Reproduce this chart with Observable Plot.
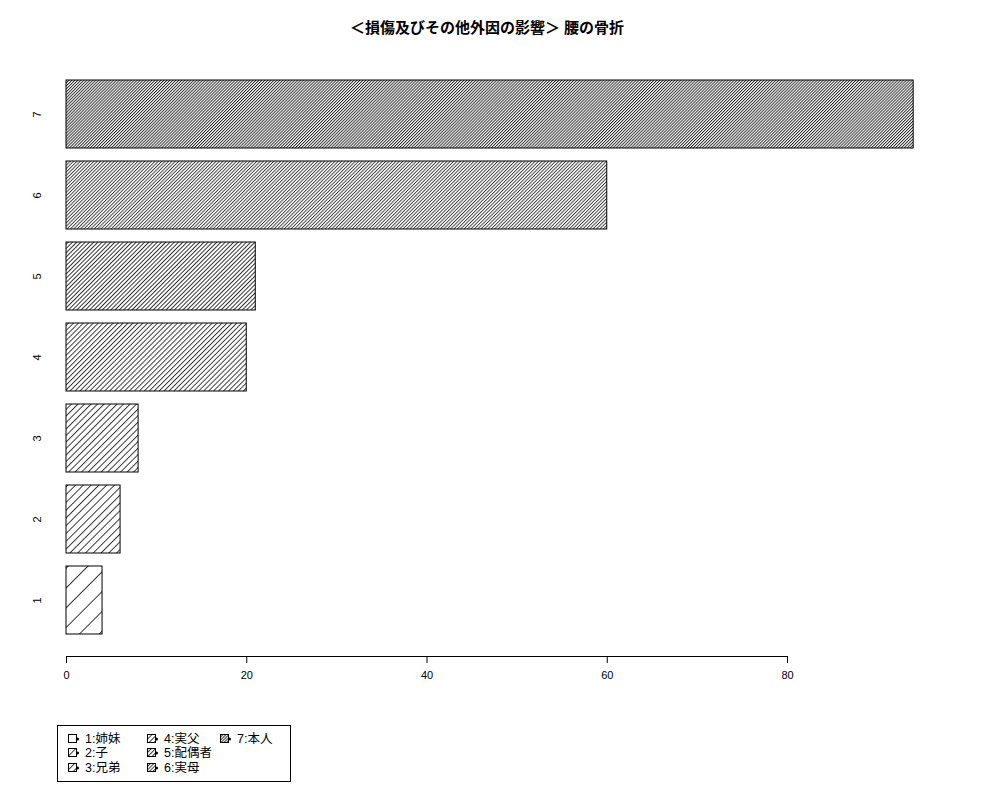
<!DOCTYPE html>
<html>
<head>
<meta charset="utf-8">
<script src="https://cdn.jsdelivr.net/npm/d3@7"></script>
<script src="https://cdn.jsdelivr.net/npm/@observablehq/plot@0.6"></script>
<style>
  body { margin: 0; background: #fff; font-family: "Liberation Sans", "Noto Sans CJK JP", sans-serif; }
  #wrap { position: relative; width: 1000px; height: 800px; }
  #title { position: absolute; left: 0; top: 19px; width: 974px; text-align: center; font-weight: bold; font-size: 15px; line-height: 18px; color: #000; }
  #chart { position: absolute; left: 0; top: 0; }
  #legend { position: absolute; left: 57px; top: 725px; width: 234px; height: 57px; border: 1px solid #000; box-sizing: border-box; }
  .item { position: absolute; font-size: 12.5px; line-height: 14px; color: #000; white-space: nowrap; }
  .item svg { position: absolute; left: -17px; top: 2px; }
</style>
</head>
<body>
<div id="wrap">
  <div id="chart"></div>
  <div id="title"></div>
  <div id="legend"></div>
</div>
<script>
const title = "＜損傷及びその他外因の影響＞ 腰の骨折";
const categories = ["1", "2", "3", "4", "5", "6", "7"];
const values = [4, 6, 8, 20, 21, 60, 94];
const legendLabels = ["1:姉妹", "2:子", "3:兄弟", "4:実父", "5:配偶者", "6:実母", "7:本人"];
const xTicks = [0, 20, 40, 60, 80];

// style: perpendicular gap between hatch lines per category (px)
const hatchGap = [14, 5.5, 4.6, 3.5, 3.0, 2.4, 2.1];

const data = categories.map((c, i) => ({cat: c, value: values[i], pat: `url(#hatch${i})`}));

document.getElementById("title").textContent = title;

const svg = Plot.plot({
  width: 1000,
  height: 700,
  marginTop: 72,
  marginBottom: 44,
  marginLeft: 66,
  marginRight: 213,
  style: {fontFamily: "'Liberation Sans', 'Noto Sans CJK JP', sans-serif", fontSize: "11px", color: "#000", background: "#fff"},
  x: {domain: [0, 80], ticks: xTicks},
  y: {domain: categories.slice().reverse(), paddingInner: 0.2 / 1.2, paddingOuter: 0.1 / 1.2, insetBottom: 15},
  color: {type: "identity"},
  marks: [
    Plot.barX(data, {x: "value", y: "cat", fill: "pat", stroke: "black", strokeWidth: 1}),
    Plot.frame({anchor: "bottom", stroke: "black"}),
    Plot.axisX({ticks: xTicks, tickSize: 7, tickPadding: 8, label: null, fontSize: 11}),
    Plot.axisY({tickSize: 0, tickRotate: -90, tickPadding: 26, label: null, fontSize: 11})
  ]
});

const defs = d3.select(svg).insert("defs", ":first-child");
hatchGap.forEach((g, i) => {
  const p = defs.append("pattern")
    .attr("id", `hatch${i}`)
    .attr("patternUnits", "userSpaceOnUse")
    .attr("width", g)
    .attr("height", 10)
    .attr("patternTransform", "rotate(45)");
  p.append("rect").attr("width", g).attr("height", 10).attr("fill", "white");
  p.append("line").attr("x1", 0.5).attr("y1", 0).attr("x2", 0.5).attr("y2", 10)
    .attr("stroke", "black").attr("stroke-width", 0.8);
});
document.getElementById("chart").appendChild(svg);

// legend
const legend = document.getElementById("legend");
const colText = [27, 106, 179];
const rowTop = [6, 20, 35];
legendLabels.forEach((lab, i) => {
  const col = Math.floor(i / 3), row = i % 3;
  const div = document.createElement("div");
  div.className = "item";
  div.style.left = colText[col] + "px";
  div.style.top = rowTop[row] + "px";
  div.innerHTML = `<svg width="12" height="10"><rect x="0.5" y="0.5" width="8" height="8" fill="url(#hatch${i})" stroke="black"/><circle cx="9.5" cy="5" r="1.6" fill="black"/></svg>`;
  div.appendChild(document.createTextNode(lab));
  legend.appendChild(div);
});
</script>
</body>
</html>
